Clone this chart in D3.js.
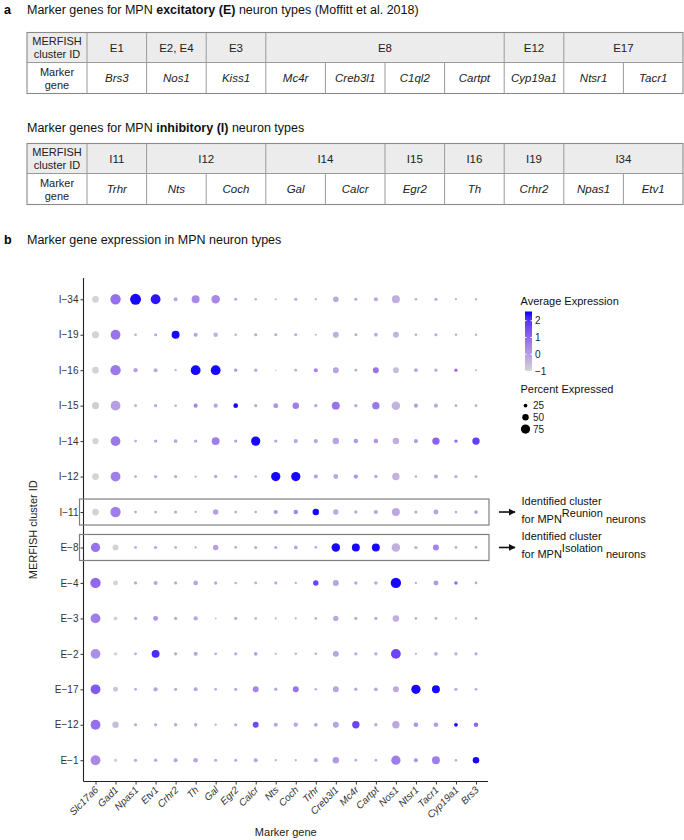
<!DOCTYPE html>
<html><head><meta charset="utf-8">
<script src="https://cdn.jsdelivr.net/npm/d3@7"></script>
<style>
body{margin:0;background:#fff}
svg{display:block}
text{font-family:"Liberation Sans",Arial,Helvetica,sans-serif}
</style>
</head><body>
<svg id="chart" width="684" height="840"></svg>
<script>
// ---------- Panel a data ----------
const clustersE = ["E1", "E2, E4", "E3", "E8", "E12", "E17"];
const spansE = [1, 1, 1, 4, 1, 2];
const genesE = ["Brs3", "Nos1", "Kiss1", "Mc4r", "Creb3l1", "C1ql2", "Cartpt", "Cyp19a1", "Ntsr1", "Tacr1"];
const clustersI = ["I11", "I12", "I14", "I15", "I16", "I19", "I34"];
const spansI = [1, 2, 2, 1, 1, 1, 2];
const genesI = ["Trhr", "Nts", "Coch", "Gal", "Calcr", "Egr2", "Th", "Crhr2", "Npas1", "Etv1"];

// ---------- Panel b data ----------
const clusterRows = ["I\u221234", "I\u221219", "I\u221216", "I\u221215", "I\u221214", "I\u221212", "I\u221211",
  "E\u22128", "E\u22124", "E\u22123", "E\u22122", "E\u221217", "E\u221212", "E\u22121"];
const markerGenes = ["Slc17a6", "Gad1", "Npas1", "Etv1", "Crhr2", "Th", "Gal", "Egr2", "Calcr", "Nts",
  "Coch", "Trhr", "Creb3l1", "Mc4r", "Cartpt", "Nos1", "Ntsr1", "Tacr1", "Cyp19a1", "Brs3"];
// percent expressed, one list per cluster row (same order as clusterRows)
const percentExpressed = [
  [52, 85, 90, 80, 27, 63, 68, 18, 15, 10, 20, 12, 42, 20, 28, 63, 15, 20, 12, 12],
  [55, 80, 15, 20, 63, 28, 33, 14, 20, 18, 18, 10, 45, 17, 25, 45, 14, 20, 14, 14],
  [52, 85, 30, 28, 12, 80, 80, 20, 22, 5, 16, 28, 45, 16, 45, 45, 25, 20, 20, 10],
  [55, 80, 16, 20, 14, 28, 28, 34, 20, 36, 50, 22, 63, 22, 58, 68, 28, 28, 16, 16],
  [48, 80, 16, 22, 25, 22, 63, 22, 75, 22, 28, 28, 50, 32, 32, 50, 28, 58, 22, 58],
  [52, 80, 16, 20, 20, 12, 22, 20, 14, 75, 75, 28, 36, 30, 22, 58, 14, 28, 20, 16],
  [52, 85, 16, 16, 20, 12, 40, 16, 14, 28, 33, 50, 40, 22, 28, 63, 20, 36, 16, 25],
  [75, 45, 16, 20, 16, 12, 40, 16, 20, 20, 25, 16, 68, 63, 63, 68, 20, 45, 16, 16],
  [85, 36, 20, 28, 20, 33, 22, 14, 16, 20, 12, 40, 45, 22, 22, 85, 12, 36, 22, 16],
  [80, 25, 20, 36, 20, 30, 8, 20, 14, 10, 10, 14, 40, 20, 20, 50, 14, 16, 12, 14],
  [80, 22, 16, 63, 22, 28, 16, 20, 25, 12, 14, 14, 45, 22, 22, 80, 12, 25, 20, 20],
  [80, 36, 16, 30, 20, 28, 16, 20, 45, 22, 45, 14, 45, 22, 25, 45, 75, 63, 20, 16],
  [80, 50, 20, 20, 22, 22, 12, 20, 45, 28, 30, 25, 45, 58, 22, 58, 33, 33, 25, 33],
  [80, 22, 20, 22, 28, 33, 20, 20, 28, 12, 12, 25, 50, 16, 16, 75, 28, 63, 14, 50]
];
// average (scaled) expression, one list per cluster row
const averageExpression = [
  [-1, 0.9, 2.5, 2.4, -0.1, 0.4, 0.4, -0.2, -0.3, -0.3, -0.1, -0.3, -0.2, -0.2, -0.1, -0.3, -0.2, -0.2, -0.3, -0.3],
  [-1, 0.8, -0.2, -0.2, 2.5, -0.1, -0.4, -0.2, -0.2, -0.2, -0.2, -0.3, -0.3, -0.2, -0.2, -0.4, -0.2, -0.2, -0.3, -0.3],
  [-1, 0.7, 0, -0.2, -0.2, 2.5, 2.5, 0.3, -0.2, -0.5, -0.2, 0.5, -0.1, -0.2, 0.8, -0.6, -0.1, -0.2, 1.0, -0.3],
  [-0.9, 0, -0.2, -0.2, -0.2, 0.5, -0.1, 2.5, -0.2, 0.2, 0.6, -0.1, 0.8, -0.2, 0.7, -0.4, 0, -0.2, -0.2, -0.2],
  [-1, 0.7, -0.2, -0.2, -0.1, -0.2, 0.6, -0.1, 2.5, -0.2, -0.1, -0.1, -0.1, 0.1, 0.2, -0.3, 0.1, 1.1, 1.0, 1.8],
  [-1, 0.6, -0.2, -0.2, -0.2, -0.2, -0.2, -0.2, -0.2, 2.5, 2.5, 0, -0.2, 0.2, -0.2, -0.4, -0.2, -0.2, -0.2, -0.2],
  [-1, 0.6, -0.2, -0.2, -0.2, -0.2, 0, -0.2, -0.2, 0.2, 0.4, 2.5, -0.2, -0.2, -0.1, -0.2, -0.2, -0.1, -0.2, 0],
  [0.8, -1, -0.2, -0.2, -0.2, -0.2, 0, -0.2, -0.2, -0.2, -0.1, -0.2, 2.5, 2.5, 2.5, -0.3, -0.2, 0.5, -0.2, -0.2],
  [1.0, -1, -0.2, -0.1, -0.2, -0.1, -0.2, -0.2, -0.2, -0.2, -0.2, 1.7, -0.1, -0.2, -0.2, 2.5, -0.2, 0.1, 1.0, -0.2],
  [0.6, -1, -0.2, 0.2, -0.2, -0.1, -0.4, -0.2, -0.2, -0.3, -0.3, -0.2, -0.2, -0.2, -0.2, -0.3, -0.2, -0.2, -0.3, -0.2],
  [0.3, -1, -0.2, 2.1, -0.2, -0.1, -0.2, -0.2, -0.1, -0.3, -0.3, -0.2, -0.1, -0.2, -0.2, 1.7, -0.3, -0.2, -0.2, -0.2],
  [1.3, -0.7, -0.2, -0.1, -0.2, -0.1, -0.2, -0.2, 0.5, -0.2, 0.8, -0.3, -0.1, -0.2, -0.2, -0.2, 2.5, 2.5, -0.2, -0.2],
  [0.9, -0.6, -0.2, -0.2, -0.2, -0.2, -0.3, -0.2, 1.6, -0.1, -0.1, -0.1, -0.1, 1.7, -0.2, -0.2, 0.2, 0, 2.5, 1.0],
  [0.4, -1, -0.2, -0.2, -0.1, -0.1, -0.2, -0.2, -0.1, -0.3, -0.3, -0.1, 0.1, -0.2, -0.2, 0.6, 0.2, 0.6, -0.2, 2.5]
];
const highlightedRows = ["I\u221211", "E\u22128"];
const highlightLabels = ["Reunion", "Isolation"];
const colorTicks = [-1, 0, 1, 2];
const sizeTicks = [25, 50, 75];

// ---------- drawing ----------
const svg = d3.select("#chart");
const FONT = '"Liberation Sans",Arial,Helvetica,sans-serif';

function panelTitle(letter, y, parts) {
  svg.append("text").attr("x", 4).attr("y", y).attr("font-size", 12.5).attr("font-weight", "bold").text(letter);
  titleText(y, parts);
}
function titleText(y, parts) {
  const t = svg.append("text").attr("x", 27).attr("y", y).attr("font-size", 12.5).attr("fill", "#111");
  parts.forEach(p => t.append("tspan").attr("font-weight", p[1] ? "bold" : "normal").text(p[0]));
}

panelTitle("a", 14, [["Marker genes for MPN ", 0], ["excitatory (E)", 1], [" neuron types (Moffitt et al. 2018)", 0]]);
titleText(132, [["Marker genes for MPN ", 0], ["inhibitory (I)", 1], [" neuron types", 0]]);
panelTitle("b", 244, [["Marker gene expression in MPN neuron types", 0]]);

function drawTable(top, clusters, spans, genes) {
  const left = 27, right = 683, headW = 60;
  const rowH1 = 30, rowH2 = 31;
  const colX = d3.scaleLinear().domain([0, genes.length]).range([left + headW, right]);
  const g = svg.append("g");
  // header row background
  g.append("rect").attr("x", left).attr("y", top).attr("width", right - left).attr("height", rowH1)
    .attr("fill", "#ececec");
  // first column labels
  const hl = g.append("text").attr("x", left + headW / 2).attr("text-anchor", "middle").attr("font-size", 11).attr("fill", "#222");
  hl.append("tspan").attr("x", left + headW / 2).attr("y", top + 12.5).text("MERFISH");
  hl.append("tspan").attr("x", left + headW / 2).attr("y", top + 25).text("cluster ID");
  const ml = g.append("text").attr("text-anchor", "middle").attr("font-size", 11).attr("fill", "#222");
  ml.append("tspan").attr("x", left + headW / 2).attr("y", top + rowH1 + 13).text("Marker");
  ml.append("tspan").attr("x", left + headW / 2).attr("y", top + rowH1 + 26).text("gene");
  // cluster cells
  let start = 0;
  clusters.forEach((c, i) => {
    const x0 = colX(start), x1 = colX(start + spans[i]);
    g.append("text").attr("x", (x0 + x1) / 2).attr("y", top + rowH1 / 2 + 4).attr("text-anchor", "middle")
      .attr("font-size", 11.5).attr("fill", "#222").text(c);
    if (start > 0) g.append("line").attr("x1", x0).attr("x2", x0).attr("y1", top).attr("y2", top + rowH1)
      .attr("stroke", "#9a9a9a").attr("stroke-width", 1);
    start += spans[i];
  });
  // gene cells
  genes.forEach((gn, i) => {
    const x0 = colX(i), x1 = colX(i + 1);
    g.append("text").attr("x", (x0 + x1) / 2).attr("y", top + rowH1 + rowH2 / 2 + 4).attr("text-anchor", "middle")
      .attr("font-size", 11.5).attr("font-style", "italic").attr("fill", "#222").text(gn);
    if (i > 0) g.append("line").attr("x1", x0).attr("x2", x0).attr("y1", top + rowH1).attr("y2", top + rowH1 + rowH2)
      .attr("stroke", "#9a9a9a").attr("stroke-width", 1);
  });
  // separators
  g.append("line").attr("x1", left + headW).attr("x2", left + headW).attr("y1", top).attr("y2", top + rowH1 + rowH2)
    .attr("stroke", "#9a9a9a");
  g.append("line").attr("x1", left).attr("x2", right).attr("y1", top + rowH1).attr("y2", top + rowH1)
    .attr("stroke", "#9a9a9a");
  g.append("rect").attr("x", left).attr("y", top).attr("width", right - left).attr("height", rowH1 + rowH2)
    .attr("fill", "none").attr("stroke", "#8a8a8a").attr("stroke-width", 1.1);
}
drawTable(32.5, clustersE, spansE, genesE);
drawTable(143.5, clustersI, spansI, genesI);

// ---------- dot plot ----------
const plot = {left: 83.5, right: 488, top: 278, bottom: 781.5};
const x = d3.scalePoint().domain(markerGenes).range([plot.left, plot.right]).padding(0.6);
const y = d3.scalePoint().domain(clusterRows).range([plot.top, plot.bottom]).padding(0.6);
const color = d3.scaleLinear().domain([-1, 2.55]).range(["#d3d3d3", "#0000ff"]).interpolate(d3.interpolateLab).clamp(true);
const radius = d3.scaleLinear().domain([0, 100]).range([0.5, 6.0]);

const cells = [];
clusterRows.forEach((r, i) => markerGenes.forEach((gn, j) => {
  cells.push({row: r, gene: gn, pct: percentExpressed[i][j], expr: averageExpression[i][j]});
}));

svg.append("g").selectAll("circle").data(cells).join("circle")
  .attr("cx", d => x(d.gene)).attr("cy", d => y(d.row))
  .attr("r", d => radius(d.pct)).attr("fill", d => color(d.expr));

// axes
const yAxis = d3.axisLeft(y).tickSize(3).tickPadding(2);
const yg = svg.append("g").attr("transform", `translate(${plot.left},0)`).call(yAxis);
yg.select(".domain").attr("d", `M0,${plot.top}V${plot.bottom}`).attr("stroke", "#222").attr("stroke-width", 1.1);
yg.selectAll(".tick line").attr("stroke", "#333");
yg.selectAll(".tick text").attr("font-size", 10).attr("fill", "#333").attr("font-family", FONT);

const xAxis = d3.axisBottom(x).tickSize(3).tickPadding(2);
const xg = svg.append("g").attr("transform", `translate(0,${plot.bottom})`).call(xAxis);
xg.select(".domain").attr("d", `M${plot.left},0H${plot.right}`).attr("stroke", "#222").attr("stroke-width", 1.1);
xg.selectAll(".tick line").attr("stroke", "#333");
xg.selectAll(".tick text").attr("font-size", 10).attr("fill", "#333").attr("font-style", "italic")
  .attr("font-family", FONT)
  .attr("text-anchor", "end").attr("dy", null).attr("y", 0)
  .attr("transform", "translate(3,9) rotate(-45)");

svg.append("text").attr("transform", `translate(37,${(plot.top + plot.bottom) / 2}) rotate(-90)`)
  .attr("text-anchor", "middle").attr("font-size", 11).attr("fill", "#222").text("MERFISH cluster ID");
svg.append("text").attr("x", (plot.left + plot.right) / 2).attr("y", 836)
  .attr("text-anchor", "middle").attr("font-size", 11).attr("fill", "#222").text("Marker gene");

// highlight boxes, arrows, labels
const defs = svg.append("defs");
defs.append("marker").attr("id", "arr").attr("viewBox", "0 0 10 10").attr("refX", 9).attr("refY", 5)
  .attr("markerWidth", 4.5).attr("markerHeight", 4.5).attr("orient", "auto")
  .append("path").attr("d", "M0,0L10,5L0,10z").attr("fill", "#111");

highlightedRows.forEach((r, i) => {
  const cy = y(r);
  svg.append("rect").attr("x", 79.5).attr("y", cy - 13).attr("width", 489 - 79.5).attr("height", 26)
    .attr("fill", "none").attr("stroke", "#7f7f7f").attr("stroke-width", 1.2);
  svg.append("line").attr("x1", 499).attr("x2", 515).attr("y1", cy).attr("y2", cy)
    .attr("stroke", "#111").attr("stroke-width", 1.6).attr("marker-end", "url(#arr)");
  svg.append("text").attr("x", 521.5).attr("y", cy - 7).attr("font-size", 11).attr("fill", "#111").text("Identified cluster");
  const t = svg.append("text").attr("x", 521.5).attr("y", cy + 11).attr("font-size", 11).attr("fill", "#111");
  t.append("tspan").text("for MPN");
  t.append("tspan").attr("dy", -6).text(highlightLabels[i]);
  t.append("tspan").attr("dy", 6).text(" neurons");
});

// legend: colour bar
const lg = svg.append("g");
lg.append("text").attr("x", 520.5).attr("y", 304.5).attr("font-size", 11).attr("fill", "#111").text("Average Expression");
const barTop = 311.5, barBottom = 371, barX = 525, barW = 7;
const barScale = d3.scaleLinear().domain([-1, 2.55]).range([barBottom, barTop]);
const grad = defs.append("linearGradient").attr("id", "cg").attr("x1", 0).attr("y1", 1).attr("x2", 0).attr("y2", 0);
d3.range(0, 1.0001, 0.1).forEach(t => {
  grad.append("stop").attr("offset", t).attr("stop-color", color(-1 + t * 3.55));
});
lg.append("rect").attr("x", barX).attr("y", barTop).attr("width", barW).attr("height", barBottom - barTop).attr("fill", "url(#cg)");
colorTicks.forEach(v => {
  const yy = barScale(v);
  lg.append("line").attr("x1", barX).attr("x2", barX + 1.5).attr("y1", yy).attr("y2", yy).attr("stroke", "#fff");
  lg.append("line").attr("x1", barX + barW - 1.5).attr("x2", barX + barW).attr("y1", yy).attr("y2", yy).attr("stroke", "#fff");
  lg.append("text").attr("x", 535).attr("y", yy + 3.5).attr("font-size", 10).attr("fill", "#222")
    .text(v < 0 ? "\u2212" + Math.abs(v) : v);
});
// legend: size
lg.append("text").attr("x", 520.5).attr("y", 392.5).attr("font-size", 11).attr("fill", "#111").text("Percent Expressed");
const sizeY = d3.scalePoint().domain(sizeTicks).range([405.5, 429]);
sizeTicks.forEach(v => {
  lg.append("circle").attr("cx", 525.5).attr("cy", sizeY(v)).attr("r", radius(v)).attr("fill", "#000");
  lg.append("text").attr("x", 533).attr("y", sizeY(v) + 3.5).attr("font-size", 10).attr("fill", "#222").text(v);
});
</script>
</body></html>
